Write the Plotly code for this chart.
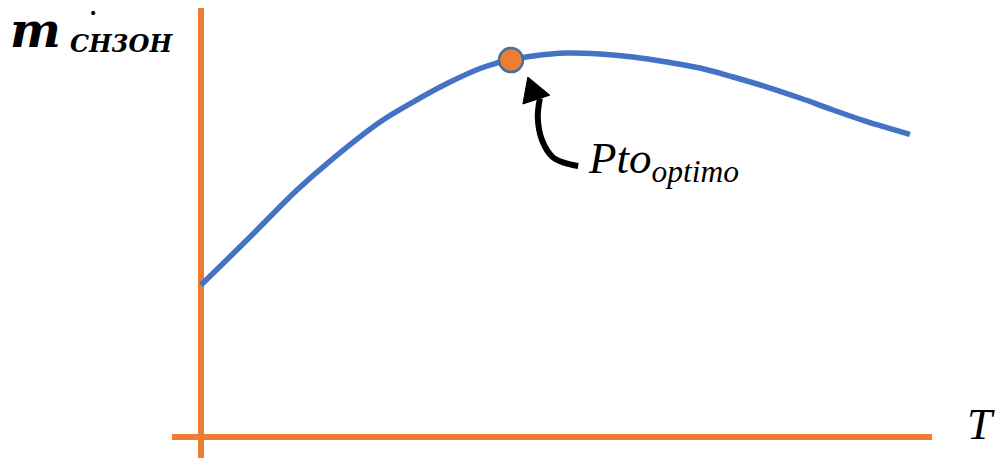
import plotly.graph_objects as go

# Curve (T in 0..100 units, m in 0..100 units)
T_vals = [0, 6.91, 13.54, 18.19, 25.25, 29.90, 34.70, 39.35, 41.47, 43.72, 46.83,
          51.62, 56.28, 60.93, 65.73, 70.38, 75.04, 79.83, 84.49, 89.14, 93.94, 100]
m_vals = [39.48, 51.95, 64.16, 71.69, 81.82, 87.01, 91.82, 95.71, 97.01, 97.92, 98.96,
          99.74, 99.48, 98.70, 97.40, 95.84, 93.51, 90.91, 88.05, 84.94, 81.90, 78.60]

# Optimum point
opt_T = [43.72]
opt_m = [97.92]

# Curved arrow shaft and head
arrow_T = [53.2, 51.3, 49.6, 48.1, 47.5, 47.8]
arrow_m = [70.4, 71.2, 72.7, 77.1, 83.1, 88.0]
head_T = [46.1, 45.4, 49.2, 46.1]
head_m = [93.5, 86.5, 88.8, 93.5]

# Axis extents
x_range = [-28.35, 112.27]
y_range = [-5.45, 113.51]
xaxis_line_T = [-4.09, 103.1]
yaxis_line_m = [-5.45, 111.4]

ORANGE = "#ED7D31"
BLUE = "#4472C4"

fig = go.Figure()

fig.add_trace(go.Scatter(x=[0, 0], y=yaxis_line_m, mode="lines",
                         line=dict(color=ORANGE, width=6), hoverinfo="skip"))
fig.add_trace(go.Scatter(x=xaxis_line_T, y=[0, 0], mode="lines",
                         line=dict(color=ORANGE, width=6), hoverinfo="skip"))

fig.add_trace(go.Scatter(x=T_vals, y=m_vals, mode="lines",
                         line=dict(color=BLUE, width=5.5, shape="spline", smoothing=1.0)))

fig.add_trace(go.Scatter(x=arrow_T, y=arrow_m, mode="lines",
                         line=dict(color="black", width=6, shape="spline")))
fig.add_trace(go.Scatter(x=head_T, y=head_m, mode="lines", fill="toself",
                         fillcolor="black", line=dict(color="black", width=1)))

fig.add_trace(go.Scatter(x=opt_T, y=opt_m, mode="markers",
                         marker=dict(size=24, color=ORANGE,
                                     line=dict(color="#41719C", width=2.5))))

fig.update_layout(
    width=997, height=458,
    margin=dict(l=0, r=0, t=0, b=0),
    paper_bgcolor="white", plot_bgcolor="white",
    showlegend=False,
    xaxis=dict(range=x_range, visible=False, fixedrange=True),
    yaxis=dict(range=y_range, visible=False, fixedrange=True),
)

serif = "Liberation Serif"
fig.add_annotation(x=586/997, y=1 - 161/458, xref="paper", yref="paper",
                   text="<i>Pto<sub>optimo</sub></i>", showarrow=False,
                   xanchor="left", yanchor="middle",
                   font=dict(family=serif, size=45, color="black"))
fig.add_annotation(x=981/997, y=1 - 424/458, xref="paper", yref="paper",
                   text="<i>T</i>", showarrow=False,
                   xanchor="center", yanchor="middle",
                   font=dict(family=serif, size=45, color="black"))
fig.add_annotation(x=8/997, y=1 - 30/458, xref="paper", yref="paper",
                   text="<b><i>m</i></b>", showarrow=False,
                   xanchor="left", yanchor="middle",
                   font=dict(family="DejaVu Serif", size=48, color="black"))
fig.add_annotation(x=68/997, y=1 - 43/458, xref="paper", yref="paper",
                   text="<b><i>CH3OH</i></b>", showarrow=False,
                   xanchor="left", yanchor="middle",
                   font=dict(family="DejaVu Serif", size=24, color="black"))
fig.add_annotation(x=93/997, y=1 - 13/458, xref="paper", yref="paper",
                   text="•", showarrow=False,
                   xanchor="center", yanchor="middle",
                   font=dict(family="DejaVu Sans", size=14, color="black"))

fig.write_html("out.html", config={"displayModeBar": False},
               post_script="document.body.style.margin='0';document.body.style.overflow='hidden';")
